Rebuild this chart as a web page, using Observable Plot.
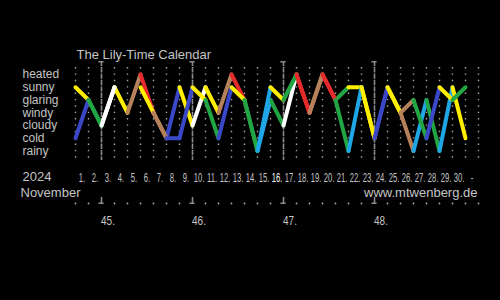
<!DOCTYPE html>
<html><head><meta charset="utf-8">
<script src="https://cdn.jsdelivr.net/npm/d3@7"></script>
<script src="https://cdn.jsdelivr.net/npm/@observablehq/plot@0.6"></script>
<style>html,body{margin:0;padding:0;background:#000;} svg{display:block;}</style>
</head><body><div id="chart"></div>
<script>
// ---- data ----
const levels = ["heated","sunny","glaring","windy","cloudy","cold","rainy"];
const levelColors = ["#e42a2a","#ffee00","#22a544","#b5805a","#ffffff","#3a48c8","#1fa6e6"];
// two observation series per day (index 0 = Nov 1 ... 30 = end of Nov 30)
const seriesA = ["sunny","glaring","cloudy","sunny","windy","heated","windy","cold","sunny","cloudy",
  "sunny","windy","heated","glaring","rainy","glaring","cloudy","heated","windy","heated",
  "glaring","sunny","sunny","cold","sunny","windy","rainy","glaring","rainy","sunny","cold"];
const seriesB = ["cold","glaring","cloudy","sunny",null,"sunny","windy","cold","cold","sunny",
  "glaring","cold","sunny","glaring","rainy","sunny","glaring","heated","windy","heated",
  "glaring","rainy","sunny","cold","sunny","windy","glaring","cold","sunny","glaring","sunny"];
const dayLabels = ["1.","2.","3.","4.","5.","6.","7.","8.","9.","10.","11.","12.","13.","14.","15.",
  "16.","17.","18.","19.","20.","21.","22.","23.","24.","25.","26.","27.","28.","29.","30.","-"];
const todayLabel = "16.";
const weekStarts = [2, 9, 16, 23];
const weekLabels = ["45.","46.","47.","48."];
const yearLabel = "2024";
const monthLabel = "November";
const titleText = "The Lily-Time Calendar";
const creditText = "www.mtwenberg.de";

// ---- derived tables ----
const lvl = name => levels.indexOf(name);
const segments = [];
for (const s of [seriesA, seriesB]) {
  for (let u = 0; u < s.length - 1; u++) {
    if (s[u] == null || s[u+1] == null) continue;
    segments.push({x1: u, x2: u + 1, y1: lvl(s[u]), y2: lvl(s[u+1]), c: s[u]});
  }
}
const gridU = d3.range(dayLabels.length + 1);
const weeks = weekStarts.map((w, i) => ({u: w, label: weekLabels[i]}));
const txt = "#c4c4c4";
const font = "'Liberation Sans', Arial, sans-serif";

const chart = Plot.plot({
  width: 500, height: 300,
  marginTop: 0, marginRight: 0, marginBottom: 0, marginLeft: 0,
  style: {background: "#000", fontFamily: font, fontSize: "13px"},
  x: {domain: [0, dayLabels.length], range: [75, 478], axis: null},
  y: {domain: [0, levels.length - 1], range: [74, 150.5], axis: null},
  color: {type: "ordinal", domain: levels, range: levelColors},
  marks: [
    // dotted day grid
    Plot.ruleX(gridU, {x: d => d, insetTop: 67, insetBottom: 142, stroke: "#a8a8a8", strokeWidth: 1.4, strokeDasharray: "1.4,4.975"}),
    // week lines
    Plot.ruleX(weeks, {x: "u", insetTop: 62, insetBottom: 140, stroke: "#8a8a8a", strokeWidth: 1.6, strokeDasharray: "4,2.375"}),
    Plot.rect(weeks, {x1: d => d.u - 0.2, x2: d => d.u + 0.2, insetTop: 61, insetBottom: 237.5, fill: "#8a8a8a"}),
    // bottom week axis
    Plot.dot(gridU.filter(u => !weekStarts.includes(u)), {x: d => d, frameAnchor: "top", dy: 203, r: 0.9, fill: "#a8a8a8"}),
    Plot.ruleX(weeks, {x: "u", insetTop: 197, insetBottom: 96, stroke: "#8a8a8a", strokeWidth: 1.6}),
    Plot.rect(weeks, {x1: d => d.u - 0.2, x2: d => d.u + 0.2, insetTop: 202.5, insetBottom: 96, fill: "#8a8a8a"}),
    Plot.text(weeks, {x: d => d.u + 0.5, text: "label", frameAnchor: "top", dy: 216, fill: txt, fontSize: 12.5}),
    // weather lines
    Plot.link(segments, {x1: "x1", y1: "y1", x2: "x2", y2: "y2", stroke: "c", strokeWidth: 4, strokeLinecap: "round"}),
    // level labels
    Plot.text(levels, {y: (d, i) => i, text: d => d, frameAnchor: "left", dx: 22, textAnchor: "start", fill: txt, fontSize: 12}),
    // day labels (small font, stretched vertically below)
    Plot.text(dayLabels, {filter: d => d !== todayLabel, x: (d, i) => i + 0.5, text: d => d, frameAnchor: "top", dy: 171.5, fill: txt, fontSize: 9}),
    Plot.text(dayLabels, {filter: d => d === todayLabel, x: (d, i) => i + 0.5, text: d => d, frameAnchor: "top", dy: 171.5, fill: "#ffffff", fontSize: 9}),
    // titles
    Plot.text([titleText], {frameAnchor: "top-left", dx: 76, dy: 49, textAnchor: "start", fill: txt, fontSize: 13}),
    Plot.text([yearLabel], {frameAnchor: "top-left", dx: 22, dy: 171.5, textAnchor: "start", fill: txt, fontSize: 13}),
    Plot.text([monthLabel], {frameAnchor: "top-left", dx: 20, dy: 187.5, textAnchor: "start", fill: txt, fontSize: 13}),
    Plot.text([creditText], {frameAnchor: "top-left", dx: 477, dy: 187, textAnchor: "end", fill: txt, fontSize: 13})
  ]
});
document.getElementById("chart").append(chart);

// reshape the numerals to the reference's tall, condensed look
function reshape(selector, kx, ky) {
  d3.select(chart).selectAll(selector).each(function() {
    const tr = this.getAttribute("transform");
    if (tr) {
      this.setAttribute("transform", tr + ` scale(${kx},${ky})`);
    } else {
      const x = +this.getAttribute("x") || 0, y = +this.getAttribute("y") || 0;
      this.removeAttribute("x"); this.removeAttribute("y");
      this.setAttribute("transform", `translate(${x},${y}) scale(${kx},${ky})`);
    }
  });
}
reshape("g[font-size='9'] text", 0.85, 1.5);
reshape("g[font-size='12.5'] text", 0.8, 1);
</script>
</body></html>
